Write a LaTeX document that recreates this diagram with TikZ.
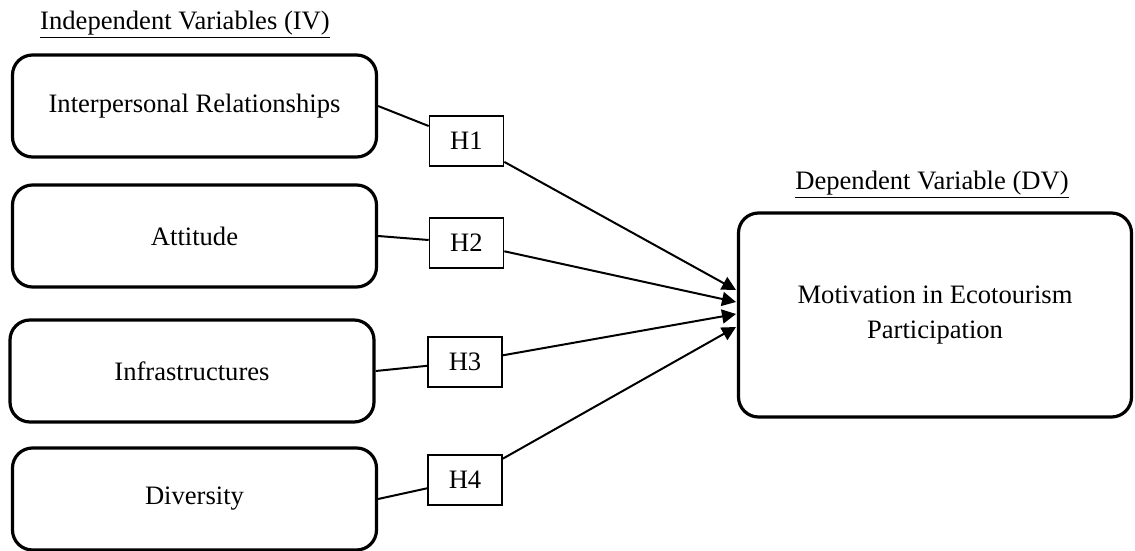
\documentclass[tikz,border=0pt]{standalone}
\usepackage{fontspec}
\setmainfont{Liberation Serif}
\usetikzlibrary{arrows.meta}

\tikzset{
    varbox/.style={draw, line width=1.6pt, rounded corners=10pt, minimum width=182pt, minimum height=51pt, align=center},
    hypbox/.style={draw, line width=0.8pt, minimum width=37pt, minimum height=25pt},
    link/.style={line width=1pt},
    path arrow/.style={line width=1pt, -{Triangle[length=7pt,width=7pt]}}
}

\begin{document}
\begin{tikzpicture}[x=0.5pt, y=-0.5pt, font=\fontsize{13.3}{17.5}\selectfont]
    \useasboundingbox (0,0) rectangle (1135,551);
    % Headings
    \node (ivtitle) at (185,25) {\underline{Independent Variables (IV)}};
    \node (dvtitle) at (932,185) {\underline{Dependent Variable (DV)}};
    % Independent variables
    \node[varbox] (iv1) at (194.5,106) {Interpersonal Relationships};
    \node[varbox] (iv2) at (194.5,236) {Attitude};
    \node[varbox] (iv3) at (192,371) {Infrastructures};
    \node[varbox] (iv4) at (194.5,499) {Diversity};
    % Dependent variable
    \node[varbox, minimum width=196.5pt, minimum height=102pt] (dv) at (935,315) {Motivation in Ecotourism\\Participation};
    % Hypotheses
    \node[hypbox] (h1) at (466.5,141) {H1};
    \node[hypbox] (h2) at (466.5,243) {H2};
    \node[hypbox] (h3) at (465,362) {H3};
    \node[hypbox] (h4) at (465,480) {H4};
    % Arrow tips on the DV box
    \coordinate (tip1) at (736,290);
    \coordinate (tip2) at (736,302);
    \coordinate (tip3) at (736,314);
    \coordinate (tip4) at (736,327);
    % Paths
    \draw[link] (iv1.east) -- (h1);
    \draw[link] (iv2.east) -- (h2);
    \draw[link] (iv3.east) -- (h3);
    \draw[link] (iv4.east) -- (h4);
    \draw[path arrow] (h1) -- (tip1);
    \draw[path arrow] (h2) -- (tip2);
    \draw[path arrow] (h3) -- (tip3);
    \draw[path arrow] (h4) -- (tip4);
\end{tikzpicture}
\end{document}
